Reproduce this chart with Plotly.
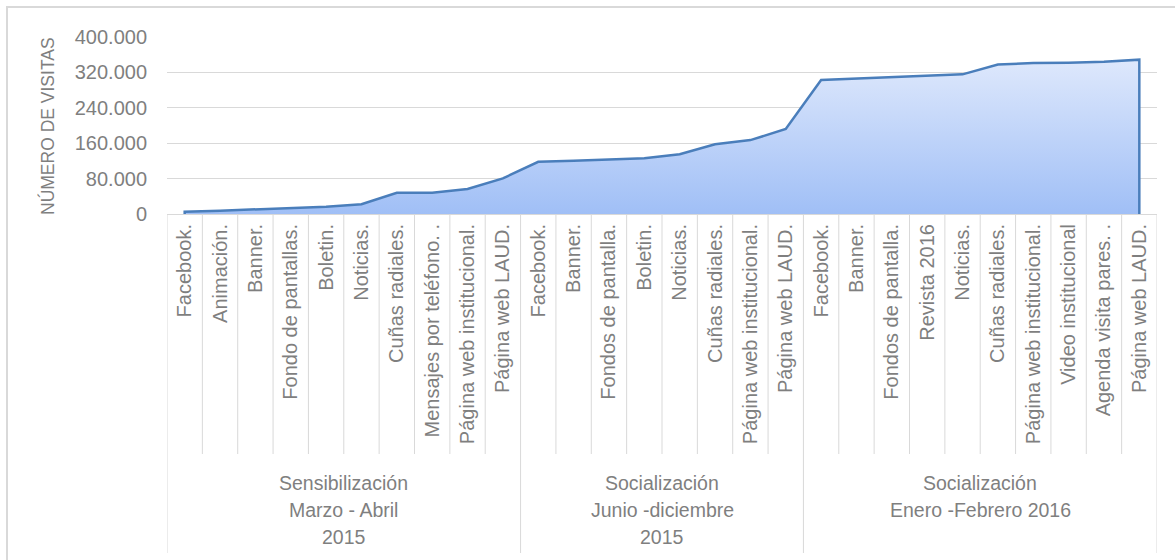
import plotly.graph_objects as go

# ---------------- data ----------------
categories = [
    "Facebook.", "Animación.", "Banner.", "Fondo de pantallas.", "Boletin.", "Noticias.",
    "Cuñas radiales.", "Mensajes por teléfono. .", "Página web institucional.", "Página web LAUD.",
    "Facebook.", "Banner.", "Fondos de pantalla.", "Boletin.", "Noticias.", "Cuñas radiales.",
    "Página web institucional.", "Página web LAUD.",
    "Facebook.", "Banner.", "Fondos de pantalla.", "Revista 2016", "Noticias.", "Cuñas radiales.",
    "Página web institucional.", "Video institucional", "Agenda visita pares. .", "Página web LAUD.",
]
visitas = [
    5000, 7500, 10500, 13500, 16500, 22000, 48000, 48000, 56500, 80500,
    118000, 120500, 122700, 125800, 135000, 157500, 167000, 192000,
    302800, 306000, 309200, 312400, 315600, 338000, 341000, 342000, 344000, 348700,
]
groups = [
    ["Sensibilización", "Marzo - Abril", "2015"],
    ["Socialización", "Junio -diciembre", "2015"],
    ["Socialización", "Enero -Febrero 2016"],
]
group_sizes = [10, 8, 10]
y_ticks = [0, 80000, 160000, 240000, 320000, 400000]
y_title = "NÚMERO DE VISITAS"

# ---------------- layout geometry ----------------
W, H = 1175, 560
L, R, T, B = 167, 18, 37, 346
pw, ph = W - L - R, H - T - B


def py(pix):  # pixel y -> paper y
    return (H - B - pix) / ph


def px(pix):  # pixel x -> paper x
    return (pix - L) / pw


FONT = "Liberation Sans, Arial, sans-serif"
GREY = "#7f7f7f"
GRID = "#d9d9d9"

n = len(categories)
xs = list(range(n))

fig = go.Figure()
fig.add_trace(go.Scatter(
    x=xs, y=visitas, mode="lines", fill="tozeroy",
    line=dict(color="rgba(0,0,0,0)", width=0),
    fillgradient=dict(type="vertical", start=0, stop=max(visitas),
                      colorscale=[[0, "#a0bff6"], [1, "#dee8fc"]]),
    hoverinfo="skip", showlegend=False,
))
# outline incl. vertical end edges
fig.add_trace(go.Scatter(
    x=[xs[0]] + xs + [xs[-1]], y=[0] + visitas + [0], mode="lines",
    line=dict(color="#4a7ebb", width=2.5), showlegend=False,
))

shapes = []
pos = 0
bounds = [0]
for s in group_sizes:
    pos += s
    bounds.append(pos)
for i in range(n + 1):
    is_group = i in bounds
    shapes.append(dict(type="line", xref="x", yref="paper",
                       x0=i - 0.5, x1=i - 0.5, y0=0,
                       y1=py(553) if is_group else py(454),
                       line=dict(color=GRID, width=1)))
# outer chart border
shapes.append(dict(type="rect", xref="paper", yref="paper",
                   x0=px(7), x1=px(1185), y0=py(575), y1=py(7),
                   line=dict(color="#d9d9d9", width=2), fillcolor="rgba(0,0,0,0)",
                   layer="below"))

annotations = []
start = 0
for g, s in zip(groups, group_sizes):
    cx = start + (s - 1) / 2
    for k, line in enumerate(g):
        annotations.append(dict(x=cx, xref="x", y=py(483 + 27 * k), yref="paper",
                                text=line, showarrow=False, xanchor="center", yanchor="middle",
                                font=dict(family=FONT, size=19.5, color=GREY)))
    start += s
annotations.append(dict(x=px(48), xref="paper", y=py(126), yref="paper", text=y_title,
                        textangle=-90, showarrow=False, xanchor="center", yanchor="middle",
                        font=dict(family=FONT, size=17.5, color=GREY)))

fig.update_layout(
    width=W, height=H,
    margin=dict(l=L, r=R, t=T, b=B, pad=0, autoexpand=False),
    paper_bgcolor="white", plot_bgcolor="white",
    separators=",.",
    shapes=shapes, annotations=annotations,
    xaxis=dict(range=[-0.5, n - 0.5], tickmode="array", tickvals=xs, ticktext=categories,
               tickangle=-90, showgrid=False, zeroline=False, showline=False, automargin=False,
               ticks="outside", ticklen=1, tickcolor="rgba(0,0,0,0)",
               tickfont=dict(family=FONT, size=20, color=GREY), fixedrange=True),
    yaxis=dict(range=[0, 400000], tickmode="array", tickvals=y_ticks, tickformat=",.0f",
               showgrid=True, gridcolor=GRID, gridwidth=1, zeroline=True, zerolinecolor=GRID,
               zerolinewidth=1, showline=False, ticks="outside", ticklen=15, automargin=False,
               tickcolor="rgba(0,0,0,0)",
               tickfont=dict(family=FONT, size=20, color=GREY), fixedrange=True),
)

fig.write_html(
    "out.html",
    config={"displayModeBar": False},
    post_script="document.body.style.margin='0';document.body.style.overflow='hidden';",
)
